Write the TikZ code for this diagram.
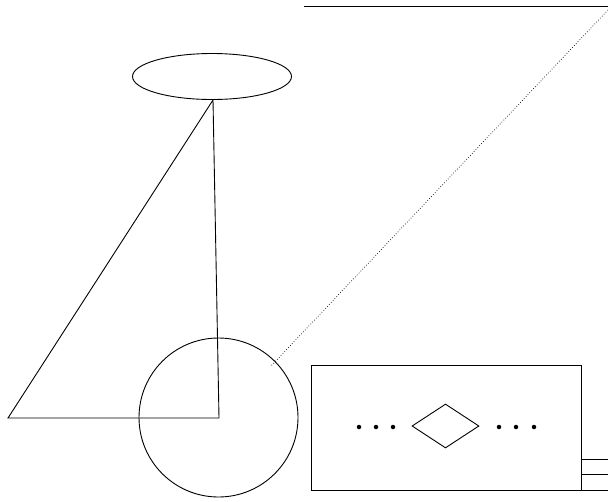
\documentclass[tikz,border=0pt]{standalone}
\usetikzlibrary{shapes.geometric}
\begin{document}
\begin{tikzpicture}[x=1pt,y=-1pt,line width=0.9pt,
  shp/.style={draw,inner sep=0pt,line width=0.9pt},
  dotmark/.style={circle,fill,inner sep=0pt,minimum size=4.5pt}]
\useasboundingbox (0,0) rectangle (608,501);
% shapes
\node[shp,ellipse,minimum width=159pt,minimum height=46pt] (ell) at (212,76.5) {};
\node[shp,circle,minimum size=159pt] (circ) at (218.5,417.5) {};
\node[shp,rectangle,minimum width=270pt,minimum height=125pt] (box) at (446,427.5) {};
\node[shp,diamond,minimum width=67pt,minimum height=44pt,aspect=1.5] (dia) at (445.5,426) {};
% dots
\foreach \i/\x in {1/359,2/376,3/393,4/499,5/516,6/534}
  \node[dotmark] (d\i) at (\x,427) {};
% coordinates
\coordinate (top) at (213,100);
\coordinate (A) at (8,418);
\coordinate (B) at (219,418);
\coordinate (tl) at (304,6);
\coordinate (tr) at (608,6);
\coordinate (dtop) at (608,10);
\coordinate (dend) at (271,366);
\coordinate (r1) at (581,459);
\coordinate (r1e) at (608,459);
\coordinate (r2) at (581,474);
\coordinate (r2e) at (608,474);
\coordinate (r3) at (581,490);
\coordinate (r3e) at (608,490);
% lines
\draw (top) -- (A) -- (B) -- (top);
\draw (tl) -- (tr);
\draw[dotted,line width=0.7pt] (dtop) -- (dend);
\draw (r1) -- (r1e);
\draw (r2) -- (r2e);
\draw (r3) -- (r3e);
\end{tikzpicture}
\end{document}
